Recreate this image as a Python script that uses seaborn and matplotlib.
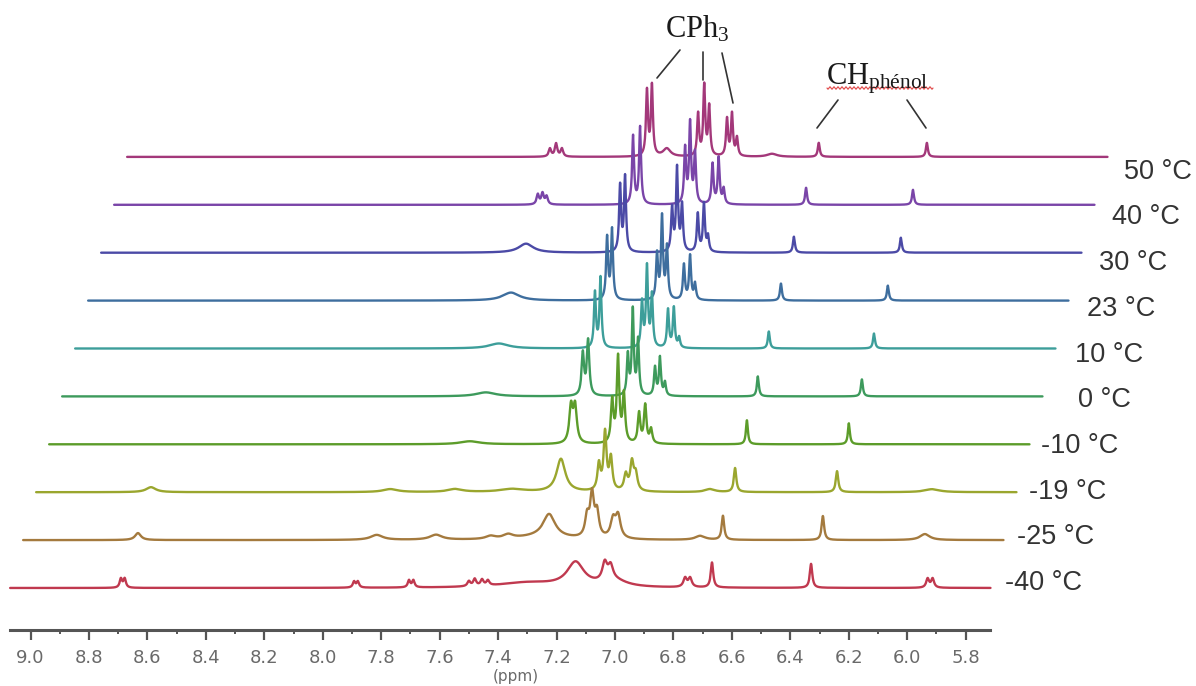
import numpy as np
import pandas as pd
import matplotlib
matplotlib.use("agg")
import matplotlib.pyplot as plt
import seaborn as sns

# temperatures, bottom trace first
temps = ["-40 °C", "-25 °C", "-19 °C", "-10 °C", "0 °C", "10 °C", "23 °C", "30 °C", "40 °C", "50 °C"]
colors = ["#c0394f", "#a47a3e", "#9aa62e", "#5c9c2a", "#3d9a5c",
          "#3d9e9a", "#3e6e9e", "#4b4aa6", "#7a45a8", "#a3387a"]

# peaks of each spectrum: (shift in ppm, height, half width in ppm)
peaks_m40 = [(8.691, 9, 0.005), (8.678, 9, 0.005), (7.893, 6, 0.005), (7.880, 6, 0.005),
             (7.705, 7, 0.005), (7.690, 7, 0.005), (7.50, 5, 0.006), (7.48, 7, 0.006),
             (7.455, 6, 0.006), (7.435, 5, 0.006), (7.30, 5, 0.12), (7.135, 24, 0.035),
             (7.035, 18, 0.010), (7.015, 14, 0.010), (7.00, 6, 0.05), (6.760, 9, 0.007),
             (6.743, 9, 0.007), (6.668, 25, 0.005), (6.329, 24, 0.005),
             (5.930, 9, 0.006), (5.913, 9, 0.006)]
peaks_m25 = [(8.677, 7, 0.012), (7.86, 5, 0.025), (7.657, 5, 0.025), (7.47, 3, 0.02),
             (7.41, 4, 0.02), (7.30, 3, 0.1), (7.270, 23, 0.025), (7.140, 20, 0.008),
             (7.123, 42, 0.008), (7.106, 24, 0.008), (7.051, 18, 0.010), (7.034, 22, 0.010),
             (6.753, 4, 0.02), (6.675, 24, 0.005), (6.333, 24, 0.005), (5.984, 6, 0.02)]
peaks_m19 = [(8.677, 5, 0.02), (7.858, 3, 0.03), (7.636, 3, 0.03), (7.44, 3, 0.05),
             (7.274, 33, 0.018), (7.144, 26, 0.006), (7.123, 58, 0.006), (7.103, 32, 0.006),
             (7.052, 16, 0.007), (7.031, 28, 0.007), (7.018, 16, 0.007), (6.764, 3, 0.02),
             (6.678, 24, 0.005), (6.329, 21, 0.005), (6.004, 3, 0.03)]
peaks_m10 = [(7.63, 3, 0.04), (7.284, 36, 0.007), (7.270, 36, 0.007), (7.143, 42, 0.005),
             (7.123, 85, 0.005), (7.103, 48, 0.005), (7.051, 30, 0.005), (7.030, 38, 0.005),
             (7.010, 14, 0.005), (6.682, 24, 0.004), (6.333, 21, 0.004)]
peaks_0 = [(7.62, 4, 0.04), (7.288, 42, 0.005), (7.270, 55, 0.005), (7.134, 40, 0.004),
           (7.117, 85, 0.004), (7.099, 55, 0.004), (7.041, 28, 0.004), (7.024, 38, 0.004),
           (7.007, 13, 0.004), (6.689, 20, 0.004), (6.333, 17, 0.004)]
peaks_10 = [(7.62, 5, 0.04), (7.291, 55, 0.004), (7.272, 70, 0.004), (7.130, 45, 0.004),
            (7.113, 80, 0.004), (7.096, 52, 0.004), (7.041, 38, 0.004), (7.021, 40, 0.004),
            (7.003, 10, 0.004), (6.696, 17, 0.004), (6.336, 15, 0.004)]
peaks_23 = [(7.623, 8, 0.035), (7.294, 62, 0.004), (7.277, 70, 0.004), (7.123, 45, 0.004),
            (7.106, 82, 0.004), (7.089, 52, 0.004), (7.031, 35, 0.004), (7.010, 44, 0.004),
            (6.993, 16, 0.004), (6.699, 17, 0.004), (6.333, 15, 0.004)]
peaks_30 = [(7.616, 9, 0.03), (7.294, 66, 0.004), (7.277, 75, 0.004), (7.116, 43, 0.004),
            (7.099, 83, 0.004), (7.082, 46, 0.004), (7.028, 38, 0.004), (7.007, 48, 0.004),
            (6.993, 15, 0.004), (6.699, 16, 0.004), (6.333, 15, 0.004)]
peaks_40 = [(7.620, 10, 0.005), (7.604, 11, 0.005), (7.590, 8, 0.005), (7.294, 68, 0.004),
            (7.270, 77, 0.004), (7.116, 55, 0.004), (7.099, 80, 0.004), (7.082, 50, 0.004),
            (7.022, 40, 0.004), (7.001, 46, 0.004), (6.984, 15, 0.004),
            (6.702, 17, 0.004), (6.336, 15, 0.004)]
peaks_50 = [(7.623, 8, 0.005), (7.602, 13, 0.005), (7.582, 8, 0.005), (7.291, 65, 0.004),
            (7.274, 70, 0.004), (7.223, 8, 0.015), (7.116, 42, 0.004), (7.095, 70, 0.004),
            (7.078, 49, 0.004), (7.017, 37, 0.004), (7.000, 42, 0.004), (6.983, 18, 0.004),
            (6.863, 3, 0.02), (6.703, 14, 0.004), (6.333, 14, 0.004)]
all_peaks = [peaks_m40, peaks_m25, peaks_m19, peaks_m10, peaks_0,
             peaks_10, peaks_23, peaks_30, peaks_40, peaks_50]

ppm_lo, ppm_hi = 5.715, 9.07
ticks = np.round(np.arange(5.8, 9.01, 0.2), 1)

# stacked plot geometry: each spectrum moves right and up
px_per_ppm = 292.2
x0_px = 30.6
dx = 13 / px_per_ppm
dy = 47.9
base0 = 42


def spectrum(shift, peaks):
    y = np.zeros_like(shift)
    for c, h, w in peaks:
        y += h / (1 + ((shift - c) / w) ** 2)
    return y


def px2data(xp, yp):
    return 9 - (xp - x0_px) / px_per_ppm, 630 - yp


shift = np.arange(ppm_lo, ppm_hi, 0.0005)
frames = []
for i, (t, pk) in enumerate(zip(temps, all_peaks)):
    frames.append(pd.DataFrame({"ppm": shift - i * dx,
                                "y": spectrum(shift, pk) + base0 + i * dy,
                                "T": t}))
df = pd.concat(frames, ignore_index=True)

sns.set_theme(style="white")
plt.rcParams["font.family"] = ["DejaVu Sans"]
plt.rcParams["mathtext.fontset"] = "custom"
plt.rcParams["mathtext.rm"] = "Liberation Serif"

fig = plt.figure(figsize=(11.96, 6.86), dpi=100)
ax = fig.add_axes([0, 56 / 686, 1, 630 / 686])

# draw top spectrum first so lower ones sit over it
for t, c in list(zip(temps, colors))[::-1]:
    sns.lineplot(data=df[df["T"] == t], x="ppm", y="y", color=c, lw=1.7,
                 estimator=None, sort=False, ax=ax, legend=False)

ax.set_xlim(9 + x0_px / px_per_ppm, 9 - (1196 - x0_px) / px_per_ppm)
ax.set_ylim(0, 630)
for s in ["left", "top", "right"]:
    ax.spines[s].set_visible(False)
ax.spines["bottom"].set_bounds(ppm_hi, ppm_lo)
ax.spines["bottom"].set_color("#555555")
ax.spines["bottom"].set_linewidth(2.2)
ax.set_yticks([])
ax.set_ylabel("")
ax.set_xticks(ticks)
ax.set_xticklabels([f"{v:.1f}" for v in ticks])
ax.set_xticks(np.round(np.arange(5.9, 9.01, 0.2), 1), minor=True)
ax.tick_params(axis="x", which="major", direction="out", length=7, width=1.6,
               color="#555555", labelcolor="#6a6a6a", labelsize=13, pad=7, bottom=True)
ax.tick_params(axis="x", which="minor", direction="out", length=3, width=1.4,
               color="#555555", bottom=True)
ax.set_xlabel("(ppm)", fontsize=11, color="#6a6a6a")
ax.xaxis.set_label_coords(516 / 1196, -0.062)
ax.xaxis.label.set_va("top")

# temperature labels
for i, t in enumerate(temps):
    lx, ly = px2data(1082 + 12.2 * i, 583 - 45.7 * i)
    ax.text(lx, ly, t, ha="right", va="center", fontsize=19.5, color="#333333",
            family="Liberation Sans")

# assignments
tx, ty = px2data(697, 37)
ax.text(tx, ty, r"$\mathrm{CPh_3}$", ha="center", va="baseline", fontsize=22, color="#1a1a1a")
tx, ty = px2data(826, 85)
ax.text(tx, ty, r"$\mathrm{CH_{phénol}}$", ha="left", va="baseline", fontsize=22, color="#1a1a1a")

leaders = [((680, 50), (657, 78)), ((703, 52), (703, 80)), ((722, 53), (733, 103)),
           ((838, 100), (817, 128)), ((907, 100), (926, 128))]
for a, b in leaders:
    xa, ya = px2data(*a)
    xb, yb = px2data(*b)
    ax.plot([xa, xb], [ya, yb], color="#333333", lw=1.2)

# spell-check squiggle under the label
wx = np.linspace(827, 933, 160)
wy = 88 + 1.2 * np.sin((wx - 827) / 4 * 2 * np.pi)
wxd, wyd = px2data(wx, wy)
ax.plot(wxd, wyd, color="#e04040", lw=0.8)

fig.savefig("out.png", dpi=100)
